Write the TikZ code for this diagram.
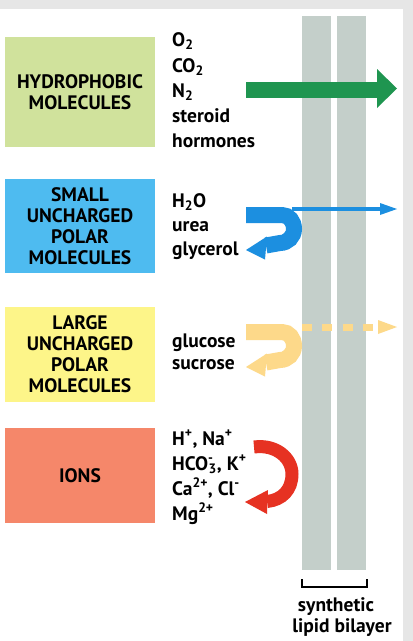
\documentclass[tikz,border=0pt]{standalone}
\usepackage{fontspec}
\setmainfont{PT Sans}
\definecolor{bggray}{HTML}{E6E6E6}
\definecolor{cgreen}{HTML}{D0E29C}
\definecolor{cblue}{HTML}{4EBBF0}
\definecolor{cyellow}{HTML}{FDF589}
\definecolor{csalmon}{HTML}{F5876A}
\definecolor{agreen}{HTML}{1F9550}
\definecolor{ablue}{HTML}{1C8FE0}
\definecolor{ayellow}{HTML}{FDD98A}
\definecolor{ared}{HTML}{E63222}
\definecolor{cbar}{HTML}{C4CFCA}
\newcommand\mysupsub[2]{\textsuperscript{\rlap{#1}}\textsubscript{#2}}
\tikzset{
  boxlbl/.style={inner sep=0pt, minimum width=150pt, align=center,
    font=\bfseries\fontsize{19.5}{21}\selectfont, text=black},
  item/.style={anchor=base west, inner sep=0pt,
    font=\bfseries\fontsize{19.5}{22}\selectfont},
  caption/.style={anchor=base, inner sep=0pt,
    font=\bfseries\fontsize{19.5}{22}\selectfont},
  barstyle/.style={fill=cbar},
  hookband/.style={line width=16pt},
}
\begin{document}
\begin{tikzpicture}[x=1pt,y=-1pt]
\useasboundingbox (0,0) rectangle (413,641);
\fill[bggray] (0,0) rectangle (413,641);
\fill[white] (0,9) rectangle (403,641);

% lipid bilayer
\fill[barstyle] (302,16) rectangle (331,570);
\fill[barstyle] (337,16) rectangle (366,570);
\coordinate (brL) at (302,579);
\coordinate (brR) at (367,579);
\draw[line width=2.2pt] (brL) -- ++(0,8) -| (brR);
\node[caption] (syn) at (336,611) {synthetic};
\node[caption] (lip) at (342,632) {lipid bilayer};

% boxes
\node[boxlbl, fill=cgreen, minimum height=110pt] (hydro) at (80,92) {HYDROPHOBIC\\MOLECULES};
\node[boxlbl, fill=cblue, minimum height=94pt] (small) at (80,226) {SMALL\\UNCHARGED\\POLAR\\MOLECULES};
\node[boxlbl, fill=cyellow, minimum height=95pt] (large) at (80,354.5) {LARGE\\UNCHARGED\\POLAR\\MOLECULES};
\node[boxlbl, fill=csalmon, minimum height=95pt] (ions) at (80,475.5) {IONS};

% lists
\node[item] (o2) at (172,46) {O\textsubscript{2}};
\node[item] (co2) at (172,72) {CO\textsubscript{2}};
\node[item] (n2) at (172,97) {N\textsubscript{2}};
\node[item] (ster) at (172,122) {steroid};
\node[item] (horm) at (172,147) {hormones};

\node[item] (h2o) at (172,207) {H\textsubscript{2}O};
\node[item] (urea) at (172,231) {urea};
\node[item] (glyc) at (172,255) {glycerol};

\node[item] (gluc) at (172,347) {glucose};
\node[item] (sucr) at (172,369) {sucrose};

\node[item] (hna) at (172,445) {H\textsuperscript{+}, Na\textsuperscript{+}};
\node[item] (hco) at (172,470) {HCO\mysupsub{-}{3}, K\textsuperscript{+}};
\node[item] (cacl) at (172,495.5) {Ca\textsuperscript{2+}, Cl\textsuperscript{-}};
\node[item] (mg) at (172,520.5) {Mg\textsuperscript{2+}};

% green arrow (passes)
\coordinate (gS) at (246,90);
\coordinate (gT) at (397,88.5);
\fill[agreen] (246,82) rectangle (377,98);
\fill[agreen] (377,69) -- (gT) -- (377,108) -- cycle;

% blue arrows
\coordinate (bS) at (246,215);
\coordinate (bT) at (246,250);
\draw[ablue, hookband] (bS) -- (282,215)
  .. controls (289,215) and (294,221.27) .. (294,229)
  .. controls (294,236.73) and (287.73,243) .. (280,243) -- (266,245.5);
\fill[ablue] (bT) -- (267,236.5) -- (265,259.5) -- cycle;
\coordinate (bL) at (292,209);
\coordinate (bR) at (397,209);
\draw[ablue, line width=4.5pt] (bL) -- (381,209);
\fill[ablue] (bR) -- (380,203) -- (380,215) -- cycle;

% yellow arrows
\coordinate (yS) at (246,332);
\coordinate (yT) at (246,367);
\draw[ayellow, hookband] (yS) -- (282,332)
  .. controls (289,332) and (294,338.27) .. (294,346)
  .. controls (294,353.73) and (287.73,360) .. (280,360) -- (266,362.5);
\fill[ayellow] (yT) -- (267,353.5) -- (265,376.5) -- cycle;
\coordinate (yL) at (302,327);
\coordinate (yR) at (397,327);
\draw[ayellow, line width=7pt, dash pattern=on 10pt off 10.3pt] (yL) -- (374,327);
\fill[ayellow] (yR) -- (378,320) -- (378,334) -- cycle;

% red arrow (bounces back)
\coordinate (rS) at (254,447);
\coordinate (rT) at (245,502);
\draw[ared, line width=13pt] (rS) .. controls (276,444) and (292,458) .. (292,474)
  .. controls (292,490) and (282,500) .. (267,501.5);
\fill[ared] (rT) -- (268,490) -- (267,514) -- cycle;
\end{tikzpicture}
\end{document}
